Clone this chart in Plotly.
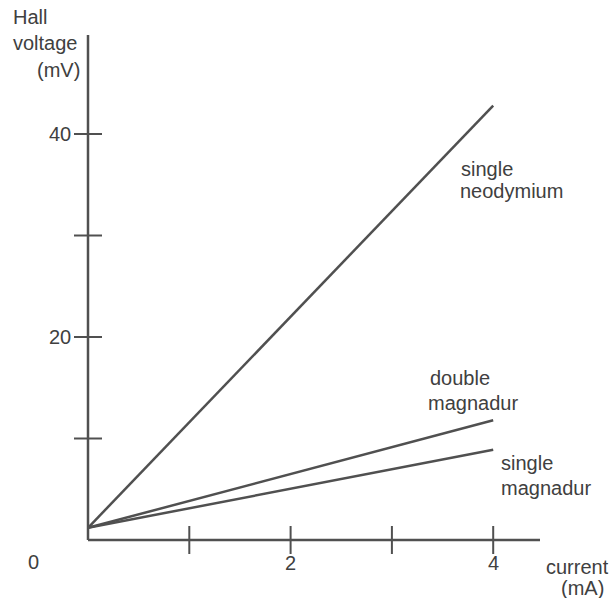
import plotly.graph_objects as go

# Data
current = [0, 4]
single_neodymium = [1.2, 42.8]
double_magnadur = [1.2, 11.8]
single_magnadur = [1.2, 8.9]
x_ticks = [1, 2, 3, 4]
y_ticks = [10, 20, 30, 40]
x_ticklabels = ["", "2", "", "4"]
y_ticklabels = ["", "20", "", "40"]

INK = "#505050"
TXT = "#404040"
FONT = dict(family="Liberation Sans, Arial, sans-serif", size=20, color=TXT)

# pixel scale of the drawing
X0, XS = 88, 101.3   # pixel of x=0, pixels per mA
Y0, YS = 540, 10.15  # pixel of y=0, pixels per mV
L, R, T, B = 2, 2, 2, 2
W, H = 614, 598


def px_x(p):
    return (p - X0) / XS


def px_y(p):
    return (Y0 - p) / YS


fig = go.Figure()
for ys in (single_neodymium, double_magnadur, single_magnadur):
    fig.add_trace(go.Scatter(x=current, y=ys, mode="lines",
                             line=dict(color=INK, width=2.5),
                             hoverinfo="skip", showlegend=False))

# tick marks crossing the axes
fig.add_trace(go.Scatter(x=x_ticks, y=[0] * len(x_ticks), mode="markers",
                         marker=dict(symbol="line-ns", size=20,
                                     line=dict(color=INK, width=2)),
                         hoverinfo="skip", showlegend=False))
fig.add_trace(go.Scatter(x=[0] * len(y_ticks), y=y_ticks, mode="markers",
                         marker=dict(symbol="line-ew", size=20,
                                     line=dict(color=INK, width=2)),
                         hoverinfo="skip", showlegend=False))

# axis lines
fig.add_shape(type="line", x0=0, y0=0, x1=px_x(540), y1=0,
              line=dict(color=INK, width=2.5))
fig.add_shape(type="line", x0=0, y0=0, x1=0, y1=px_y(35),
              line=dict(color=INK, width=2.5))


def label(text, xp, yp, xanchor="left", **kw):
    fig.add_annotation(x=px_x(xp), y=px_y(yp), xref="x", yref="y", text=text,
                       showarrow=False, xanchor=xanchor, yanchor="middle",
                       font=FONT, borderpad=0, **kw)


# tick labels
label("0", 33, 562, "center")
for v, t in zip(x_ticks, x_ticklabels):
    if t:
        fig.add_annotation(x=v, y=px_y(563), text=t, showarrow=False,
                           xanchor="center", yanchor="middle", font=FONT)
for v, t in zip(y_ticks, y_ticklabels):
    if t:
        fig.add_annotation(x=px_x(73), y=v, text=t, showarrow=False,
                           xanchor="right", yanchor="middle", font=FONT)

# series labels
label("single", 460, 169)
label("neodymium", 459, 191)
label("double", 429, 378)
label("magnadur", 427, 403)
label("single", 500, 463)
label("magnadur", 500, 488)

# axis titles
label("current", 610, 567, "right", height=20)
label("(mA)", 605, 588, "right", height=20)
label("Hall", 12, 17)
label("voltage", 12, 43)
label("(mV)", 81, 70, "right")

fig.update_xaxes(range=[px_x(L), px_x(W - R)], visible=False, fixedrange=True)
fig.update_yaxes(range=[px_y(H - B), px_y(T)], visible=False, fixedrange=True)
fig.update_layout(width=W, height=H,
                  margin=dict(l=L, r=R, t=T, b=B),
                  plot_bgcolor="white", paper_bgcolor="white",
                  font=FONT)

fig.write_html("out.html")
